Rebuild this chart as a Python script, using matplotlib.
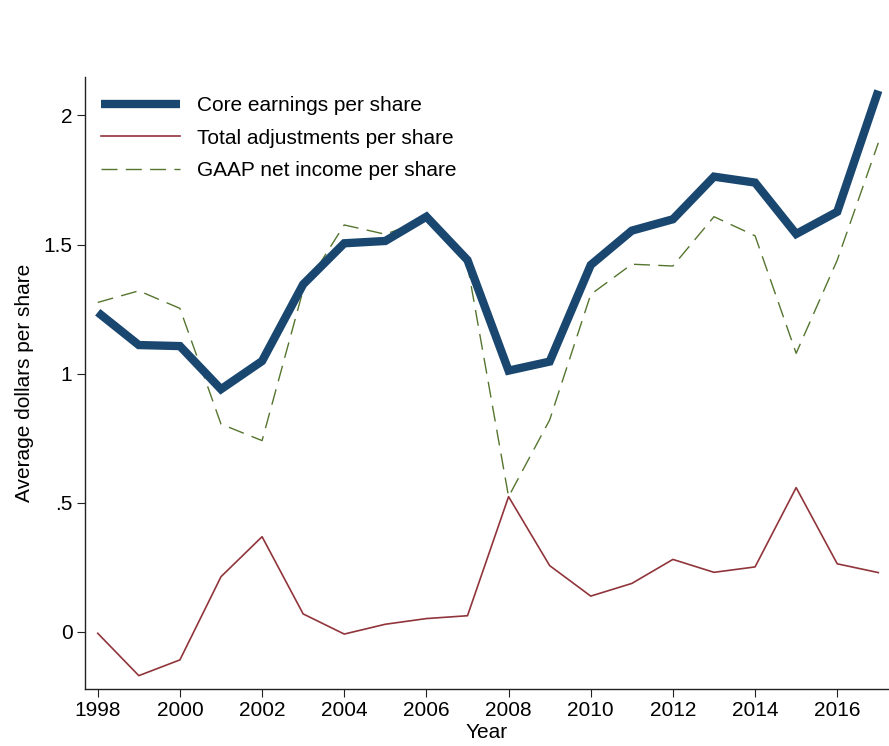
import matplotlib
matplotlib.use("Agg")
import matplotlib.pyplot as plt

years = list(range(1998, 2018))
core_eps = [1.238, 1.111, 1.107, 0.940, 1.049, 1.346, 1.505, 1.514, 1.608, 1.440,
            1.012, 1.047, 1.421, 1.554, 1.598, 1.763, 1.740, 1.541, 1.627, 2.096]
total_adj = [-0.005, -0.169, -0.108, 0.214, 0.369, 0.070, -0.008, 0.030, 0.052, 0.063,
             0.524, 0.257, 0.139, 0.188, 0.281, 0.231, 0.252, 0.559, 0.264, 0.230]
gaap_ni = [1.276, 1.321, 1.253, 0.805, 0.741, 1.324, 1.576, 1.540, 1.598, 1.421,
           0.524, 0.821, 1.307, 1.424, 1.417, 1.608, 1.534, 1.079, 1.440, 1.894]

x_ticks = list(range(1998, 2017, 2))
y_ticks = [0, 0.5, 1, 1.5, 2]
y_tick_labels = ["0", ".5", "1", "1.5", "2"]

plt.rcParams['font.family'] = ['Liberation Sans', 'DejaVu Sans']
FS = 15

fig = plt.figure(figsize=(8.89, 7.46), dpi=100)
ax = fig.add_axes([85/889, 1-689/746, 1-85/889, (689-76.7)/746])

ax.plot(years, core_eps, color='#1a476f', lw=6, solid_joinstyle='miter',
        solid_capstyle='butt', label='Core earnings per share', zorder=3)
ax.plot(years, total_adj, color='#90353b', lw=1.2, label='Total adjustments per share', zorder=2)
ax.plot(years, gaap_ni, color='#55752f', lw=1.0, dashes=(11.5, 6),
        label='GAAP net income per share', zorder=2)

ax.set_xlim(1997.69, 2017.26)
ax.set_ylim(-0.2207, 2.15)
ax.set_xticks(x_ticks)
ax.set_yticks(y_ticks)
ax.set_yticklabels(y_tick_labels)
ax.tick_params(axis='both', direction='out', length=6, width=0.8, labelsize=FS, pad=3, color='#222222')
for s in ['top', 'right']:
    ax.spines[s].set_visible(False)
for s in ['left', 'bottom']:
    ax.spines[s].set_linewidth(1.0)
    ax.spines[s].set_color('#222222')

ax.set_xlabel('Year', fontsize=FS, labelpad=2)
ax.set_ylabel('Average dollars per share', fontsize=FS, labelpad=7)

leg = ax.legend(loc='upper left', bbox_to_anchor=(-0.0063, 1.002), frameon=False, fontsize=FS,
                handlelength=3.8, handletextpad=0.84, labelspacing=0.64, borderaxespad=0.6)

fig.savefig('out.png', dpi=100)
